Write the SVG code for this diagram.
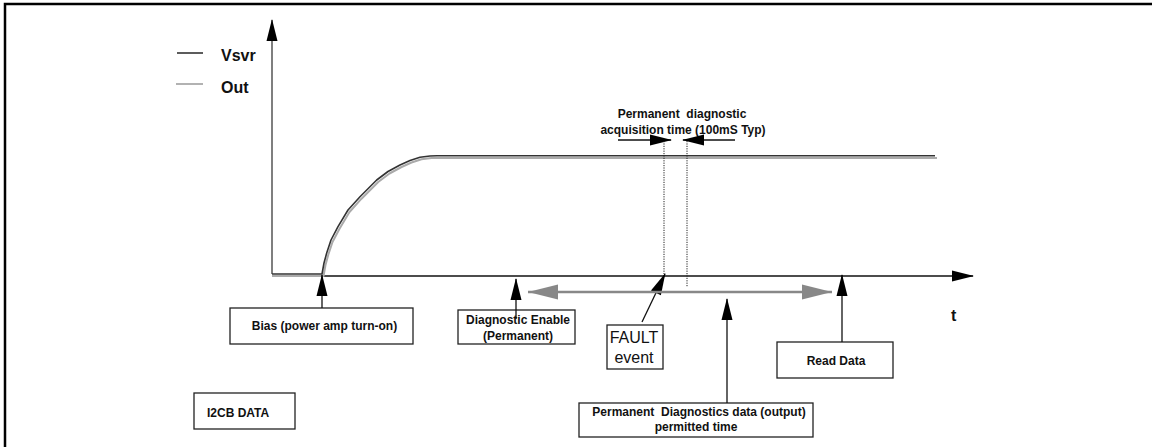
<svg xmlns="http://www.w3.org/2000/svg" width="1152" height="447" viewBox="0 0 1152 447">
<defs>
<marker id="ah" markerUnits="userSpaceOnUse" markerWidth="22" markerHeight="12" refX="21" refY="5.5" orient="auto" overflow="visible">
<path d="M0,0 L22,5.5 L0,11 z" fill="#000"/>
</marker>
<marker id="ahg" markerUnits="userSpaceOnUse" markerWidth="31" markerHeight="16" refX="30" refY="7.5" orient="auto" overflow="visible">
<path d="M0,0 L30,7.5 L0,15 z" fill="#888"/>
</marker>
</defs>
<style>
text{white-space:pre}
.b{font-family:"Liberation Sans",Arial,sans-serif;font-weight:bold;font-size:12px;fill:#111}
.lg{font-family:"Liberation Sans",Arial,sans-serif;font-weight:bold;font-size:16px;fill:#111}
.r{font-family:"Liberation Sans",Arial,sans-serif;font-size:16px;fill:#111}
.box{fill:#fff;stroke:#222;stroke-width:1.3}
.ln{fill:none;stroke:#111;stroke-width:1.3}
.dot{fill:none;stroke:#222;stroke-width:1;stroke-dasharray:1.2,1.2}
</style>
<rect width="1152" height="447" fill="#fff"/>
<path d="M5,447 V4 H1152" fill="none" stroke="#000" stroke-width="2.5"/>

<g id="legend">
<line x1="177" y1="53" x2="203" y2="53" stroke="#333" stroke-width="1.6"/>
<text class="lg" x="221" y="61">Vsvr</text>
<line x1="176" y1="84" x2="203" y2="84" stroke="#aaa" stroke-width="1.8"/>
<text class="lg" x="221" y="93">Out</text>
</g>

<g id="axes">
<line x1="272" y1="274" x2="272" y2="20" stroke="#555" stroke-width="1.5" marker-end="url(#ah)"/>
<line x1="322" y1="276" x2="973" y2="276" class="ln" marker-end="url(#ah)"/>
<text class="lg" x="951" y="321">t</text>
</g>

<g id="curves">
<polyline fill="none" stroke="#aaa" stroke-width="2" stroke-linejoin="round" points="272,276 323.5,276 325.5,265 328.2,255 332.5,242 339.5,228.7 349.5,212 361.5,198.7 378.2,182 389.5,173.5 401.5,167 411.5,162.5 421.5,159.3 431.5,158 437,158 937,158"/>
<polyline fill="none" stroke="#333" stroke-width="1.6" stroke-linejoin="round" points="272,274 322,274 324,263 326.7,253 331,240 338,226.7 348,210 360,196.7 376.7,180 388,171.5 400,165 410,160.5 420,157.3 430,156 437,155.7 935,155.7"/>
</g>

<g id="acq-time">
<text class="b" x="682" y="118" text-anchor="middle">Permanent  diagnostic</text>
<text class="b" x="683" y="134" text-anchor="middle">acquisition time (100mS Typ)</text>
<line x1="618" y1="140" x2="671" y2="140" class="ln" marker-end="url(#ah)"/>
<line x1="735" y1="140" x2="683" y2="140" class="ln" marker-end="url(#ah)"/>
<line x1="664" y1="141" x2="664" y2="274" class="dot"/>
<line x1="687" y1="141" x2="687" y2="287" class="dot"/>
</g>

<g id="bias">
<rect class="box" x="230" y="308" width="183" height="36"/>
<text class="b" x="324.5" y="330" text-anchor="middle">Bias (power amp turn-on)</text>
</g>

<g id="i2cb">
<rect class="box" x="194" y="393" width="101" height="36"/>
<text class="b" x="207" y="417">I2CB DATA</text>
</g>

<g id="diag-enable">
<rect class="box" x="458" y="310" width="117" height="34"/>
<text class="b" x="518" y="324" text-anchor="middle">Diagnostic Enable</text>
<text class="b" x="518" y="340" text-anchor="middle">(Permanent)</text>
</g>

<g id="fault">
<rect class="box" x="607" y="325" width="56" height="44"/>
<text class="r" x="634" y="343" text-anchor="middle">FAULT</text>
<text class="r" x="634" y="363" text-anchor="middle">event</text>
</g>

<g id="perm-data">
<rect class="box" x="579" y="403" width="234" height="34"/>
<text class="b" x="699" y="416" text-anchor="middle">Permanent  Diagnostics data (output)</text>
<text class="b" x="696" y="431" text-anchor="middle">permitted time</text>
</g>

<g id="read-data">
<rect class="box" x="777" y="342" width="116" height="36"/>
<text class="b" x="836" y="365" text-anchor="middle">Read Data</text>
</g>

<g id="connectors">
<line x1="322" y1="308" x2="322" y2="275" class="ln" marker-end="url(#ah)"/>
<line x1="516" y1="319" x2="516" y2="279" class="ln" marker-end="url(#ah)"/>
<line x1="642" y1="322" x2="665" y2="274" class="ln" marker-end="url(#ah)"/>
<line x1="727" y1="403" x2="727" y2="299" class="ln" marker-end="url(#ah)"/>
<line x1="842" y1="342" x2="842" y2="275" class="ln" marker-end="url(#ah)"/>
<line x1="680" y1="292" x2="528" y2="292" stroke="#888" stroke-width="2.5" marker-end="url(#ahg)"/>
<line x1="680" y1="292" x2="832" y2="292" stroke="#888" stroke-width="2.5" marker-end="url(#ahg)"/>
</g>
</svg>
